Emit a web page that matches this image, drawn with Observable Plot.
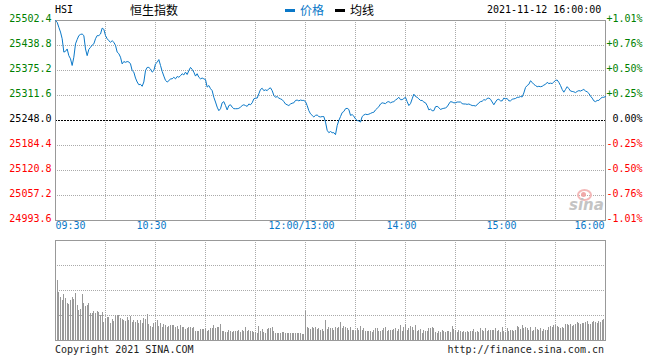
<!DOCTYPE html>
<html><head><meta charset="utf-8">
<script src="https://cdn.jsdelivr.net/npm/d3@7"></script>
<script src="https://cdn.jsdelivr.net/npm/@observablehq/plot@0.6"></script>
<style>
body{margin:0;background:#fff;}
#wrap{position:relative;width:660px;height:360px;overflow:hidden;background:#fff;font-family:"DejaVu Sans Mono",monospace;font-size:10px;color:#000;}
.abs{position:absolute;white-space:nowrap;line-height:12px;}
.cjk{font-family:"Noto Sans CJK SC",sans-serif;font-size:12px;line-height:14px;}
#price,#vol{position:absolute;left:0;}
#price{top:0;} #vol{top:236px;}
</style></head><body>
<div id="wrap">
  <div id="price"></div>
  <div id="vol"></div>
  <div class="abs" style="left:55px;top:4px;">HSI</div>
  <div class="abs cjk" style="left:130px;top:3px;">恒生指数</div>
  <div class="abs" style="left:285px;top:9px;width:10px;height:3px;background:#0a78c8;"></div>
  <div class="abs cjk" style="left:300px;top:3px;color:#0a78c8;">价格</div>
  <div class="abs" style="left:335px;top:9px;width:10px;height:3px;background:#000;"></div>
  <div class="abs cjk" style="left:350px;top:3px;">均线</div>
  <div class="abs" style="left:487px;top:4px;">2021-11-12 16:00:00</div>
  <div class="abs" style="left:55px;top:344px;color:#222;">Copyright 2021 SINA.COM</div>
  <div class="abs" style="right:56px;top:344px;color:#222;">http://finance.sina.com.cn</div>
  <div class="abs" style="left:577px;top:189px;width:11px;height:8px;border:2px solid #f3b8b8;border-radius:50%;"></div>
  <div class="abs" style="left:581px;top:192px;width:5px;height:5px;background:#f0a8a8;border-radius:50%;"></div>
  <div class="abs" style="left:569px;top:197px;font-family:'DejaVu Sans',sans-serif;font-style:italic;font-weight:bold;font-size:15px;line-height:16px;color:#c4c4c4;">sina</div>
</div>
<script>
// ---- data ----
const baseValue = 25248.0;
const leftTickValues = [25502.4, 25438.8, 25375.2, 25311.6, 25248.0, 25184.4, 25120.8, 25057.2, 24993.6];
const leftTickLabels = ["25502.4","25438.8","25375.2","25311.6","25248.0","25184.4","25120.8","25057.2","24993.6"];
const rightTickLabels = ["+1.01%","+0.76%","+0.50%","+0.25%","0.00%","-0.25%","-0.50%","-0.76%","-1.01%"];
const timeTickMinutes = [0, 60, 150, 210, 270, 330];
const timeTickLabels = ["09:30","10:30","12:00/13:00","14:00","15:00","16:00"];
const gridMinutes = [30, 60, 90, 120, 150, 180, 210, 240, 270, 300];
const volumeGrid = [25, 50, 75];

// index price, one value per trading minute (0 = 09:30, 150 = 12:00/13:00, 330 = 16:00)
const prices = [
25502,25498,25485,25473,25456,25422,25424,25430,25413,25405,
25388,25409,25443,25454,25464,25467,25468,25464,25430,25413,
25429,25434,25440,25443,25456,25464,25464,25468,25483,25480,
25464,25456,25451,25447,25451,25447,25439,25422,25418,25409,
25392,25398,25396,25398,25397,25392,25375,25371,25356,25346,
25339,25340,25335,25346,25375,25383,25383,25379,25371,25375,
25392,25396,25403,25388,25373,25361,25350,25346,25349,25354,
25354,25358,25354,25360,25358,25362,25367,25364,25371,25365,
25375,25383,25378,25371,25361,25367,25358,25354,25356,25354,
25352,25333,25337,25329,25324,25307,25295,25282,25273,25278,
25293,25296,25286,25275,25286,25288,25282,25278,25278,25278,
25279,25282,25286,25288,25286,25284,25290,25288,25293,25303,
25305,25305,25316,25327,25330,25324,25326,25324,25329,25331,
25324,25312,25307,25309,25305,25303,25301,25296,25290,25288,
25286,25290,25292,25293,25299,25300,25298,25300,25299,25299,
25296,25286,25273,25265,25261,25257,25261,25262,25258,25257,
25258,25258,25244,25223,25217,25220,25217,25217,25212,25235,
25248,25258,25268,25271,25278,25279,25276,25261,25263,25259,
25252,25248,25247,25244,25258,25262,25264,25263,25264,25266,
25268,25269,25275,25279,25283,25290,25293,25292,25291,25295,
25296,25293,25295,25296,25300,25303,25307,25301,25301,25304,
25307,25296,25286,25291,25303,25315,25309,25307,25303,25299,
25299,25295,25293,25286,25275,25277,25273,25273,25283,25284,
25281,25276,25278,25279,25280,25283,25290,25296,25295,25293,
25293,25295,25295,25295,25291,25290,25290,25289,25290,25288,
25286,25286,25285,25288,25293,25296,25297,25301,25300,25304,
25305,25302,25295,25288,25295,25301,25302,25298,25298,25305,
25303,25304,25298,25298,25302,25303,25304,25307,25307,25309,
25308,25318,25332,25337,25340,25349,25345,25340,25337,25334,
25335,25334,25335,25338,25340,25345,25342,25343,25342,25346,
25350,25351,25345,25337,25327,25320,25327,25334,25329,25323,
25322,25321,25319,25322,25324,25323,25325,25327,25323,25321,
25317,25310,25305,25298,25296,25299,25299,25304,25307,25307,25309
];

// volume (relative units), minutes 1..330
const volumeStartMinute = 1;
const volumes = [
60,48,43,40,46,42,37,36,40,43,
41,47,35,30,31,46,37,34,35,37,
27,27,29,27,29,28,25,28,18,22,
23,23,17,21,19,25,25,25,22,21,
20,19,23,20,24,18,20,18,20,17,
20,17,22,21,26,16,14,13,17,18,
20,14,17,13,16,15,13,14,15,15,
15,13,14,11,15,13,13,11,12,13,
13,12,13,9,9,9,11,11,11,12,
9,10,12,12,15,12,13,13,16,9,
9,8,8,10,9,8,9,9,9,10,
8,10,9,13,9,10,9,9,8,8,
7,14,9,11,8,7,11,12,12,13,
9,7,7,7,7,8,8,7,7,7,
7,7,7,7,7,7,7,6,6,29,
13,12,11,13,12,13,11,12,10,11,
9,20,11,13,12,12,10,13,12,13,
18,12,14,13,12,10,13,10,10,9,
12,10,14,10,12,9,9,9,9,8,
10,12,12,9,9,10,12,13,9,10,
10,10,11,12,9,11,15,9,13,16,
10,12,14,13,10,15,9,10,11,7,
10,9,9,12,12,13,12,8,7,9,
8,10,9,8,9,9,8,14,11,10,
8,10,9,8,9,8,9,8,9,9,
11,8,9,8,12,10,9,12,9,10,
10,10,10,12,9,10,8,13,9,8,
12,9,10,10,9,10,14,13,11,15,
12,13,12,10,13,9,10,13,11,10,
12,9,11,10,10,13,14,13,15,15,
14,13,12,13,12,16,16,15,16,14,
15,16,18,17,16,17,17,18,19,16,
16,18,19,18,17,19,18,20,21,24
];

// ---- styles ----
const BLUE = "#0a78c8";
const GREEN = "#008000";
const RED = "#ff0000";
const GRID = "#aaaaaa";
const FONT = "DejaVu Sans Mono, monospace";

const priceRows = prices.map((p, i) => ({minute: i, price: p}));
const volRows = volumes.map((v, i) => ({minute: i + volumeStartMinute, volume: v}));
const tickRows = leftTickValues.map((v, i) => ({value: v, left: leftTickLabels[i], right: rightTickLabels[i],
  group: v > baseValue ? "up" : v < baseValue ? "down" : "flat"}));
const timeRows = timeTickMinutes.map((m, i) => ({minute: m, label: timeTickLabels[i]}));
const gridY = leftTickValues.filter((v, i) => i > 0 && i < leftTickValues.length - 1 && v !== baseValue);
const colorOf = {up: GREEN, down: RED, flat: "#000"};

const labelMarks = [];
for (const g of ["up", "flat", "down"]) {
  const rows = tickRows.filter(d => d.group === g);
  labelMarks.push(Plot.text(rows, {y: "value", text: "left", frameAnchor: "left", textAnchor: "end", dx: -4, dy: -2, fill: colorOf[g], fontFamily: FONT, fontSize: 10}));
  labelMarks.push(Plot.text(rows, {y: "value", text: "right", frameAnchor: "right", textAnchor: "end", dx: 37, dy: -2, fill: colorOf[g], fontFamily: FONT, fontSize: 10}));
}

const priceChart = Plot.plot({
  width: 660, height: 236,
  marginTop: 20, marginBottom: 16, marginLeft: 55, marginRight: 55,
  x: {domain: [0, 330], axis: null},
  y: {domain: [leftTickValues[leftTickValues.length - 1], leftTickValues[0]], axis: null},
  style: {fontFamily: FONT, fontSize: "10px", background: "transparent", overflow: "visible"},
  marks: [
    Plot.ruleY(gridY, {stroke: GRID, strokeDasharray: "1,1"}),
    Plot.ruleX(gridMinutes, {stroke: GRID, strokeDasharray: "1,1"}),
    Plot.ruleY([baseValue], {stroke: "#000", strokeDasharray: "2,1"}),
    Plot.frame({stroke: "#999"}),
    Plot.line(priceRows, {x: "minute", y: "price", stroke: BLUE, strokeWidth: 1}),
    ...labelMarks,
    Plot.text(timeRows.slice(0, 1), {x: "minute", text: "label", frameAnchor: "bottom", textAnchor: "start", dy: 8, fill: BLUE, fontFamily: FONT, fontSize: 10}),
    Plot.text(timeRows.slice(1, -1), {x: "minute", text: "label", frameAnchor: "bottom", textAnchor: "middle", dx: -4, dy: 8, fill: BLUE, fontFamily: FONT, fontSize: 10}),
    Plot.text(timeRows.slice(-1), {x: "minute", text: "label", frameAnchor: "bottom", textAnchor: "end", dx: -1, dy: 8, fill: BLUE, fontFamily: FONT, fontSize: 10})
  ]
});
document.getElementById("price").appendChild(priceChart);

const volChart = Plot.plot({
  width: 660, height: 124,
  marginTop: 4, marginBottom: 20, marginLeft: 55, marginRight: 55,
  x: {domain: [0, 330], axis: null, round: true},
  y: {domain: [0, 100], axis: null},
  style: {background: "transparent"},
  marks: [
    Plot.ruleY(volumeGrid, {stroke: GRID, strokeDasharray: "1,1"}),
    Plot.ruleX(gridMinutes, {stroke: GRID, strokeDasharray: "1,1"}),
    Plot.ruleX(volRows, {x: "minute", y1: 0, y2: "volume", stroke: "#999", strokeWidth: 1}),
    Plot.frame({stroke: "#999"})
  ]
});
document.getElementById("vol").appendChild(volChart);
</script>
</body></html>
